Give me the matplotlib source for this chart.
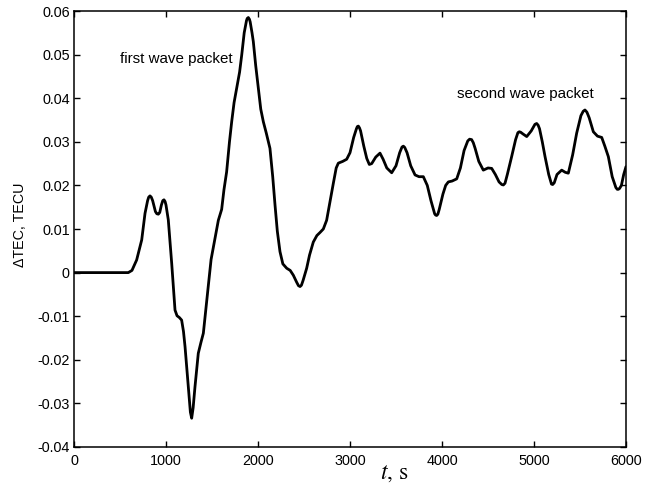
import matplotlib
matplotlib.use("Agg")
import matplotlib.pyplot as plt
from matplotlib.ticker import FuncFormatter, MultipleLocator

plt.rcParams['font.family'] = ['Liberation Sans', 'DejaVu Sans']
plt.rcParams['mathtext.fontset'] = 'stix'
plt.rcParams['axes.unicode_minus'] = False

# time, s
t = [0, 500, 590, 630, 681, 736, 772, 800, 812, 826, 840, 855, 885, 900, 917, 932,
     950, 965, 978, 990, 1000, 1025, 1062, 1098, 1120, 1145, 1170, 1190, 1207,
     1243, 1265, 1279, 1295, 1315, 1351, 1380, 1406, 1430, 1460, 1490, 1533, 1569,
     1605, 1630, 1659, 1690, 1714, 1740, 1768, 1800, 1823, 1850, 1875, 1883, 1895,
     1907, 1915, 1935, 1949, 1975, 2004, 2030, 2058, 2090, 2130, 2160, 2185, 2210,
     2239, 2270, 2312, 2350, 2384, 2420, 2440, 2457, 2472, 2490, 2529, 2560, 2601,
     2640, 2674, 2710, 2746, 2780, 2819, 2850, 2873, 2920, 2964, 3000, 3040, 3070,
     3080, 3091, 3103, 3115, 3150, 3182, 3210, 3236, 3280, 3326, 3360, 3400, 3453,
     3500, 3540, 3565, 3580, 3595, 3620, 3660, 3707, 3750, 3797, 3840, 3880, 3920,
     3930, 3942, 3955, 3970, 4010, 4040, 4069, 4110, 4160, 4200, 4240, 4280, 4300,
     4322, 4340, 4360, 4400, 4449, 4500, 4540, 4580, 4620, 4650, 4667, 4685, 4710,
     4757, 4800, 4825, 4840, 4855, 4880, 4921, 4970, 5010, 5029, 5045, 5060, 5090,
     5120, 5160, 5190, 5203, 5220, 5250, 5301, 5340, 5373, 5420, 5464, 5510, 5535,
     5554, 5575, 5600, 5645, 5690, 5736, 5770, 5808, 5850, 5890, 5905, 5917, 5930,
     5950, 5975, 6000]

# delta TEC, TECU
dtec = [0, 0, 0, 0.0005, 0.0029, 0.0075, 0.0136, 0.0165, 0.0173, 0.0176, 0.0173,
        0.0165, 0.0140, 0.0135, 0.0134, 0.0138, 0.0155, 0.0165, 0.0167, 0.0163,
        0.0155, 0.0121, 0.0021, -0.0086, -0.0099, -0.0103, -0.0109, -0.0135,
        -0.0170, -0.0262, -0.0320, -0.0334, -0.0310, -0.0262, -0.0185, -0.0160,
        -0.0139, -0.0090, -0.0030, 0.0030, 0.0079, 0.0120, 0.0145, 0.0190, 0.0231,
        0.0300, 0.0346, 0.0390, 0.0423, 0.0460, 0.0499, 0.0550, 0.0578, 0.0583,
        0.0585, 0.0581, 0.0575, 0.0550, 0.0530, 0.0475, 0.0423, 0.0375, 0.0346,
        0.0320, 0.0285, 0.0220, 0.0155, 0.0095, 0.0048, 0.0020, 0.0010, 0.0005,
        -0.0006, -0.0022, -0.0030, -0.0032, -0.0029, -0.0018, 0.0010, 0.0040,
        0.0070, 0.0085, 0.0092, 0.0100, 0.0120, 0.0160, 0.0205, 0.0240, 0.0251,
        0.0255, 0.0260, 0.0275, 0.0310, 0.0330, 0.0335, 0.0336, 0.0332, 0.0325,
        0.0290, 0.0262, 0.0248, 0.0250, 0.0265, 0.0274, 0.0260, 0.0240, 0.0229,
        0.0245, 0.0275, 0.0288, 0.0290, 0.0287, 0.0275, 0.0245, 0.0224, 0.0220,
        0.0220, 0.0200, 0.0165, 0.0135, 0.0132, 0.0131, 0.0134, 0.0145, 0.0180,
        0.0200, 0.0208, 0.0210, 0.0215, 0.0240, 0.0280, 0.0302, 0.0306, 0.0305,
        0.0298, 0.0285, 0.0255, 0.0235, 0.0240, 0.0239, 0.0225, 0.0208, 0.0202,
        0.0201, 0.0205, 0.0225, 0.0266, 0.0305, 0.0321, 0.0323, 0.0322, 0.0318,
        0.0312, 0.0325, 0.0340, 0.0342, 0.0338, 0.0330, 0.0300, 0.0266, 0.0225,
        0.0203, 0.0202, 0.0206, 0.0225, 0.0235, 0.0230, 0.0228, 0.0270, 0.0320,
        0.0360, 0.0370, 0.0373, 0.0368, 0.0355, 0.0323, 0.0313, 0.0310, 0.0290,
        0.0266, 0.0220, 0.0195, 0.0191, 0.0191, 0.0193, 0.0200, 0.0225, 0.0243]

annotations = ["first wave packet", "second wave packet"]
annot_t = [500, 4163]
annot_v = [0.0490, 0.0410]

fig = plt.figure(figsize=(6.5, 4.88), dpi=100)
ax = fig.add_axes([74/650, 1-447/488, 552/650, 436/488])

ax.plot(t, dtec, color='black', linewidth=2.0, solid_joinstyle='round',
        solid_capstyle='round')

ax.set_xlim(0, 6000)
ax.set_ylim(-0.04, 0.06)
ax.xaxis.set_major_locator(MultipleLocator(1000))
ax.yaxis.set_major_locator(MultipleLocator(0.01))
ax.yaxis.set_major_formatter(FuncFormatter(lambda v, p: '%g' % (round(v, 3) + 0.0)))
ax.xaxis.set_major_formatter(FuncFormatter(lambda v, p: '%d' % round(v)))

ax.tick_params(direction='in', top=True, right=True, length=4, width=1,
               labelsize=10.4, colors='black')
ax.tick_params(axis='x', pad=5)
ax.tick_params(axis='y', pad=3)
for s in ax.spines.values():
    s.set_linewidth(1.1)

for txt, x, y in zip(annotations, annot_t, annot_v):
    ax.text(x, y, txt, ha='left', va='center', fontsize=10.9)

ax.set_ylabel('\u0394TEC, TECU', fontsize=10.3)
ax.yaxis.set_label_coords(-0.085, 0.51)
ax.set_xlabel(r'$t$, s', fontsize=17, fontfamily='STIXGeneral')
ax.xaxis.set_label_coords(0.58, -0.035)

fig.savefig('out.png', dpi=100)
